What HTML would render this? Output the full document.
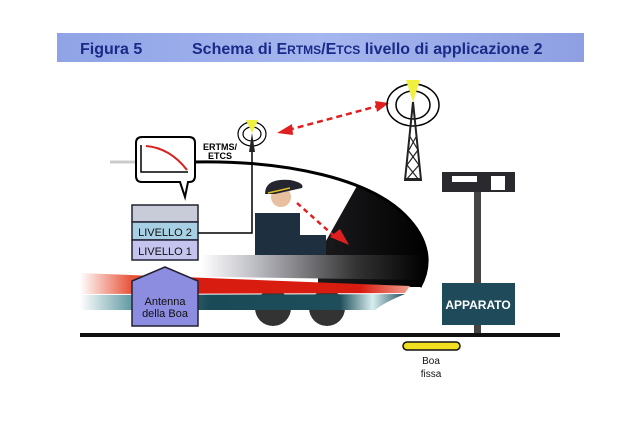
<!DOCTYPE html>
<html><head><meta charset="utf-8"><style>
html,body{margin:0;padding:0;background:#fff;width:640px;height:427px;overflow:hidden}
</style></head><body>
<svg width="640" height="427" viewBox="0 0 640 427" xmlns="http://www.w3.org/2000/svg" font-family="Liberation Sans, sans-serif">
<defs>
<linearGradient id="hdr" x1="0" x2="1"><stop offset="0" stop-color="#8fa3e6"/><stop offset="0.5" stop-color="#a5b5ee"/><stop offset="1" stop-color="#8ea0e2"/></linearGradient>
<linearGradient id="grey" x1="0" x2="1"><stop offset="0" stop-color="#fff"/><stop offset="0.35" stop-color="#fff"/><stop offset="0.5" stop-color="#c0c0c8"/><stop offset="0.8" stop-color="#333"/><stop offset="1" stop-color="#000"/></linearGradient>
<linearGradient id="red" x1="0" x2="1"><stop offset="0" stop-color="#fff"/><stop offset="0.15" stop-color="#e85a40"/><stop offset="0.3" stop-color="#d81c10"/><stop offset="0.85" stop-color="#d81c10"/><stop offset="1" stop-color="#f0a090"/></linearGradient>
<linearGradient id="teal" x1="0" x2="1"><stop offset="0" stop-color="#fff"/><stop offset="0.15" stop-color="#6aa0a8"/><stop offset="0.4" stop-color="#1a4a55"/><stop offset="0.8" stop-color="#1e4e5a"/><stop offset="0.9" stop-color="#d8eef0"/><stop offset="1" stop-color="#1e4e5a"/></linearGradient>
<linearGradient id="nose" x1="0" x2="1"><stop offset="0" stop-color="#3a3a40"/><stop offset="1" stop-color="#000"/></linearGradient>
<clipPath id="ws"><path d="M318 300 L318 255 L353 193 L366 170 L366 140 L450 140 L450 300 Z"/></clipPath>
</defs>
<rect x="57" y="33" width="527" height="29" fill="url(#hdr)"/>
<text x="80" y="54" font-size="16" font-weight="bold" fill="#1a2a88">Figura 5</text>
<text x="192" y="54" font-size="16" font-weight="bold" fill="#1a2a88">Schema di E<tspan font-size="12">RTMS</tspan>/E<tspan font-size="12">TCS</tspan> livello di applicazione 2</text>

<circle cx="273" cy="308" r="18" fill="#333"/>
<circle cx="327" cy="308" r="18" fill="#333"/>

<path d="M193 162 C290 160 370 180 405 215 C430 240 432 265 420 287 L300 287 L300 162 Z" fill="url(#nose)" clip-path="url(#ws)"/>
<path d="M193 162 C290 160 370 180 405 215 C430 240 432 265 420 287" fill="none" stroke="#000" stroke-width="3"/>
<line x1="110" y1="162" x2="195" y2="162" stroke="#ccc" stroke-width="3"/>
<rect x="255" y="213" width="45" height="42" fill="#1e3040"/>
<rect x="296" y="235" width="30" height="20" fill="#1e3040"/>
<circle cx="281" cy="197" r="10" fill="#e8c0a0"/>
<path d="M265 194 Q265 178 290 180 Q305 183 302 188 L275 194 Z" fill="#252530"/>
<line x1="268" y1="193" x2="290" y2="188" stroke="#e0c020" stroke-width="1.5"/>
<line x1="297" y1="203" x2="333" y2="235" stroke="#e02020" stroke-width="2.5" stroke-dasharray="5,4"/>
<path d="M330 237 L349 245 L340 229 Z" fill="#e02020"/>
<path d="M80 255 L425 255 L422 280 L80 275 Z" fill="url(#grey)"/>
<path d="M80 273 L410 286 L405 293 L80 294 Z" fill="url(#red)"/>
<path d="M80 295 L405 294 Q385 302 375 310 L80 310 Z" fill="url(#teal)"/>

<path d="M142 137 L189 137 Q195 137 195 143 L195 176 Q195 182 189 182 L188 182 L185 197 L180 182 L142 182 Q136 182 136 176 L136 143 Q136 137 142 137 Z" fill="#fff" stroke="#000" stroke-width="2"/>
<path d="M141 145 L141 172 L188 172" fill="none" stroke="#000" stroke-width="1.5"/>
<path d="M146 146 Q170 148 187 170" fill="none" stroke="#d82020" stroke-width="2"/>
<text x="203" y="150" font-size="9" font-weight="bold">ERTMS/</text>
<text x="208" y="159" font-size="9" font-weight="bold">ETCS</text>

<rect x="132" y="205" width="66" height="17" fill="#c8ccd8" stroke="#223" stroke-width="1.5"/>
<rect x="132" y="222" width="66" height="18" fill="#a8d0e4" stroke="#223" stroke-width="1.5"/>
<rect x="132" y="240" width="66" height="20" fill="#c4c4ee" stroke="#223" stroke-width="1.5"/>
<text x="165" y="236" font-size="11" text-anchor="middle" fill="#111">LIVELLO 2</text>
<text x="165" y="255" font-size="11" text-anchor="middle" fill="#111">LIVELLO 1</text>
<path d="M198 233 L252 233 L252 150" fill="none" stroke="#000" stroke-width="1.5"/>

<ellipse cx="252" cy="134" rx="14" ry="12" fill="none" stroke="#000" stroke-width="1.2"/>
<ellipse cx="252" cy="134" rx="9" ry="7" fill="none" stroke="#000" stroke-width="1.2"/>
<path d="M249 152 L252 133 L255 152 Z" fill="#222"/>
<path d="M246 120 L258 120 L252 133 Z" fill="#f0f040"/>
<line x1="288" y1="130" x2="378" y2="106" stroke="#e02020" stroke-width="2.5" stroke-dasharray="6,4"/>
<path d="M277 133 L292 124 L293 135 Z" fill="#e02020"/>
<path d="M389 103 L375 101 L377 112 Z" fill="#e02020"/>
<ellipse cx="413" cy="105" rx="26" ry="21" fill="none" stroke="#000" stroke-width="1.5"/>
<ellipse cx="413" cy="105" rx="17" ry="14" fill="none" stroke="#000" stroke-width="1.5"/>
<path d="M406 80 L420 80 L413 102 Z" fill="#f0f040"/>
<path d="M413 102 L405 180 L421 180 Z" fill="none" stroke="#222" stroke-width="2"/>
<path d="M408 150 L419 165 M418 150 L407 165 M407 165 L419 180 M419 165 L406 180 M409 135 L418 150 M417 135 L409 150" stroke="#222" stroke-width="1.2"/>
<rect x="405" y="178" width="16" height="3" fill="#222"/>

<rect x="442" y="172" width="73" height="20" fill="#2a2a2e"/>
<rect x="452" y="176" width="25" height="6" fill="#fff"/>
<rect x="491" y="176" width="14" height="14" fill="#fff"/>
<rect x="474" y="192" width="7" height="143" fill="#444"/>
<rect x="442" y="283" width="73" height="42" fill="#1e4a5a"/>
<text x="478" y="309" font-size="12" font-weight="bold" fill="#fff" text-anchor="middle">APPARATO</text>

<path d="M132 281 L165 267 L198 281 L198 326 L132 326 Z" fill="#8c8ce0" stroke="#223" stroke-width="1.5"/>
<text x="165" y="305" font-size="11" text-anchor="middle" fill="#111">Antenna</text>
<text x="165" y="317" font-size="11" text-anchor="middle" fill="#111">della Boa</text>

<rect x="80" y="333" width="480" height="4" fill="#111"/>
<rect x="403" y="342" width="57" height="8" rx="4" fill="#f0e020" stroke="#111" stroke-width="1.5"/>
<text x="431" y="364" font-size="10" text-anchor="middle" fill="#111">Boa</text>
<text x="431" y="377" font-size="10" text-anchor="middle" fill="#111">fissa</text>
</svg>
</body></html>
